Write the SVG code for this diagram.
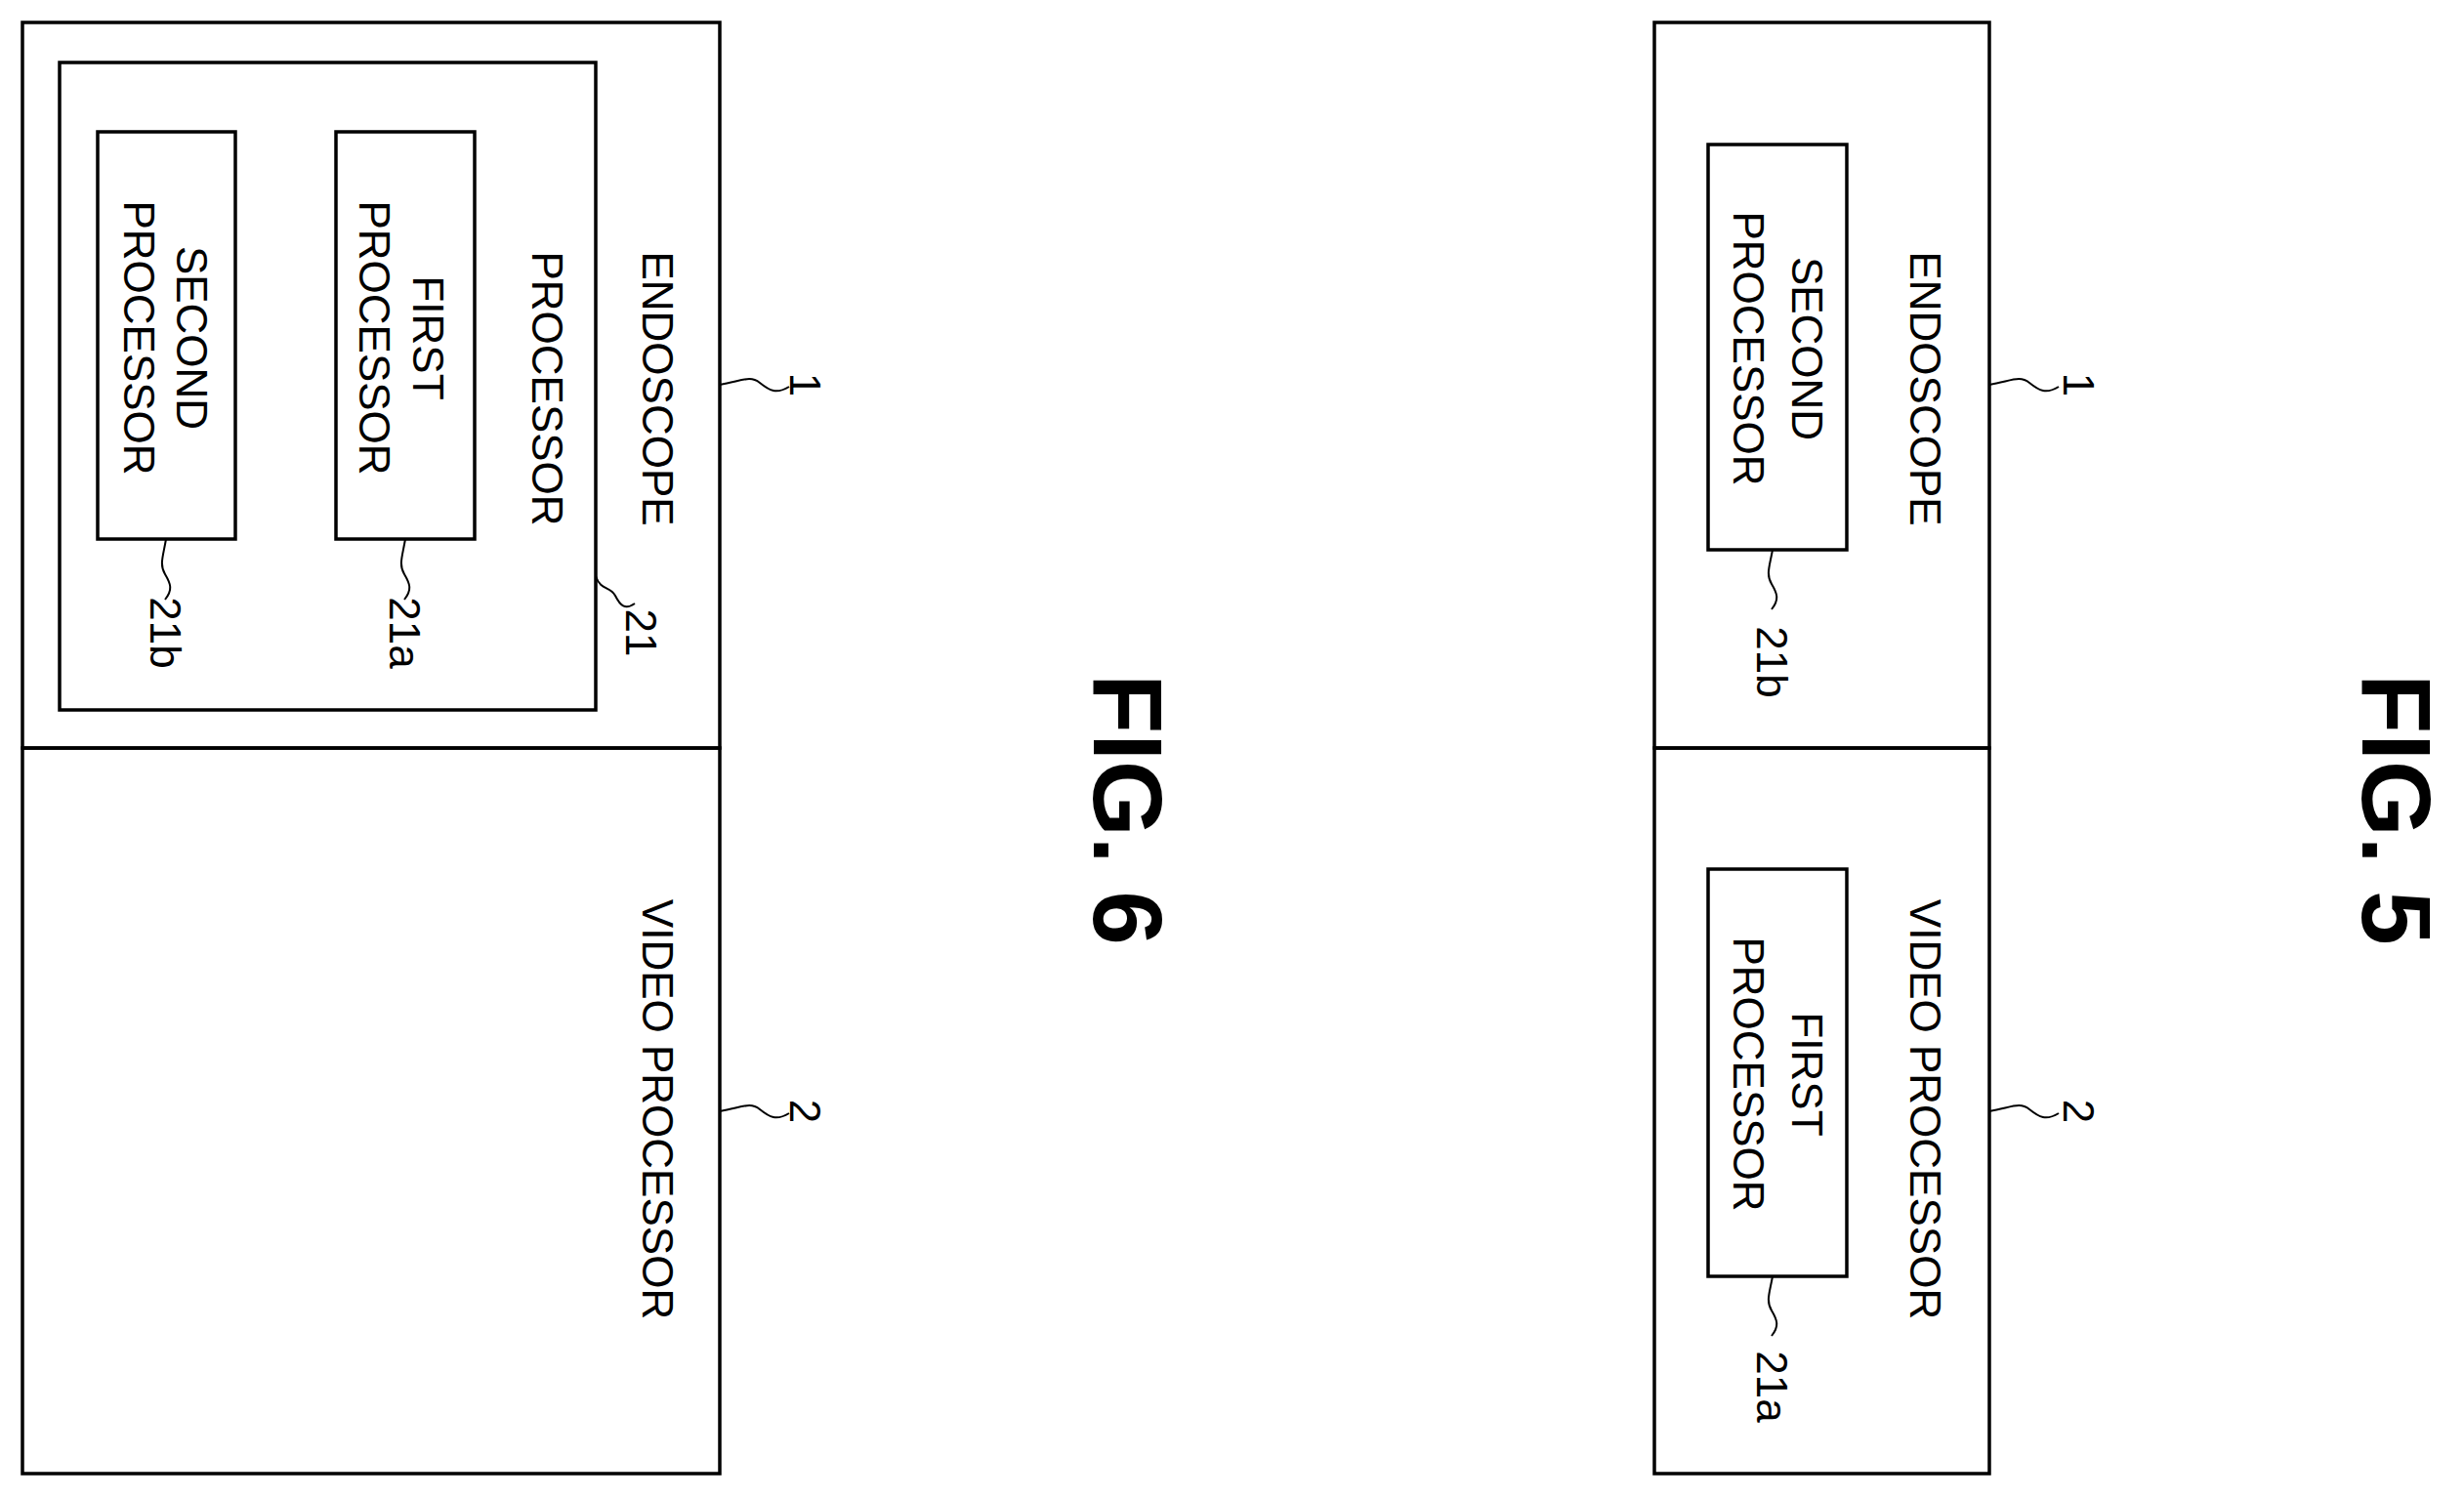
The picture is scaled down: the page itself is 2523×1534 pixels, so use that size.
<svg xmlns="http://www.w3.org/2000/svg" width="2523" height="1534" viewBox="0 0 2523 1534">
<style>
.b{fill:none;stroke:#000;stroke-width:3.5}
.l{fill:none;stroke:#000;stroke-width:2}
text{font-family:"Liberation Sans",Arial,sans-serif;font-size:44px;text-anchor:middle;dominant-baseline:central}
.f{font-size:100px;font-weight:bold}
</style>
<rect width="2523" height="1534" fill="#fff"/>
<g id="fig6">
<g id="endoscope6"><rect class="b" x="23" y="23" width="714" height="743"/><text transform="translate(673,398) rotate(90)">ENDOSCOPE</text></g>
<g id="video6"><rect class="b" x="23" y="766" width="714" height="743"/><text transform="translate(673,1136) rotate(90)">VIDEO PROCESSOR</text></g>
<g id="proc21"><rect class="b" x="61" y="64" width="549" height="663"/><text transform="translate(560,398) rotate(90)">PROCESSOR</text></g>
<g id="first6"><rect class="b" x="344" y="135" width="142" height="417"/><text transform="translate(438,346) rotate(90)">FIRST</text><text transform="translate(383,346) rotate(90)">PROCESSOR</text></g>
<g id="second6"><rect class="b" x="100" y="135" width="141" height="417"/><text transform="translate(196,346) rotate(90)">SECOND</text><text transform="translate(142,346) rotate(90)">PROCESSOR</text></g>
<text transform="translate(824,394) rotate(90)">1</text>
<text transform="translate(824,1138) rotate(90)">2</text>
<text transform="translate(656,648) rotate(90)">21</text>
<text transform="translate(414,648) rotate(90)">21a</text>
<text transform="translate(169,648) rotate(90)">21b</text>
<text class="f" transform="translate(1155,829) rotate(90)">FIG. 6</text>
</g>
<g id="fig5">
<g id="endoscope5"><rect class="b" x="1694" y="23" width="343" height="743"/><text transform="translate(1971,398) rotate(90)">ENDOSCOPE</text></g>
<g id="video5"><rect class="b" x="1694" y="766" width="343" height="743"/><text transform="translate(1971,1136) rotate(90)">VIDEO PROCESSOR</text></g>
<g id="second5"><rect class="b" x="1749" y="148" width="142" height="415"/><text transform="translate(1850,357) rotate(90)">SECOND</text><text transform="translate(1790,357) rotate(90)">PROCESSOR</text></g>
<g id="first5"><rect class="b" x="1749" y="890" width="142" height="417"/><text transform="translate(1850,1100) rotate(90)">FIRST</text><text transform="translate(1790,1100) rotate(90)">PROCESSOR</text></g>
<text transform="translate(2128,394) rotate(90)">1</text>
<text transform="translate(2128,1138) rotate(90)">2</text>
<text transform="translate(1814,678) rotate(90)">21b</text>
<text transform="translate(1814,1420) rotate(90)">21a</text>
<text class="f" transform="translate(2454,829) rotate(90)">FIG. 5</text>
</g>
<g id="connectors">
<path class="l" d="M737 394 C760 390 768 384 778 392 S795 404 808 396"/>
<path class="l" d="M737 1138 C760 1134 768 1128 778 1136 S795 1148 808 1140"/>
<path class="l" d="M2037 394 C2060 390 2068 384 2078 392 S2095 404 2108 396"/>
<path class="l" d="M2037 1138 C2060 1134 2068 1128 2078 1136 S2095 1148 2108 1140"/>
<path class="l" d="M610 590 C615 605 625 600 630 610 S640 625 650 618"/>
<path class="l" d="M415 552 C412 570 408 578 414 588 S422 604 414 614"/>
<path class="l" d="M170 552 C167 570 163 578 169 588 S177 604 169 614"/>
<path class="l" d="M1815 563 C1812 580 1808 588 1814 598 S1822 614 1814 624"/>
<path class="l" d="M1815 1307 C1812 1324 1808 1332 1814 1342 S1822 1358 1814 1368"/>
</g>
</svg>
